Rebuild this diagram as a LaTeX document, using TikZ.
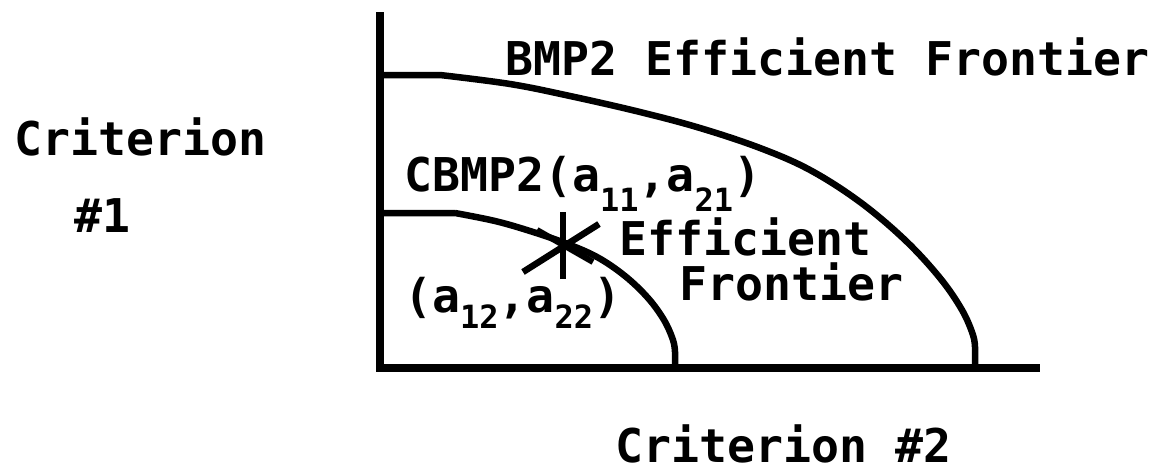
\documentclass[tikz,border=0pt]{standalone}
\usepackage{fontspec}
\newfontfamily\labelfont{DejaVu Sans Mono}
\newcommand{\lowered}[2]{\raisebox{-#1pt}{\fontsize{32}{32}\selectfont #2}}
\begin{document}
\begin{tikzpicture}[x=1pt,y=-1pt,
  axis/.style={line width=7.5pt},
  frontier/.style={line width=6.5pt,line join=round},
  lbl/.style={anchor=base west,inner sep=0pt,font=\labelfont\bfseries\fontsize{46.5}{50}\selectfont}]
\useasboundingbox (0,0) rectangle (1156,472);
\fill[white] (0,0) rectangle (1156,472);

% axes
\coordinate (top) at (380,12);
\coordinate (origin) at (380,368);
\coordinate (right) at (1040,368);
\draw[axis] (top) -- (origin) -- (right);

% outer efficient frontier (BMP2)
\draw[frontier] (380,75) -- (440,75)
  plot[smooth,tension=0.6] coordinates {(440,75) (510,84) (570,96) (640,112) (700,128)
      (760,148) (810,170) (860,202) (905,240) (940,278) (962,310) (973,335) (975,348)}
  -- (975,368);

% inner efficient frontier (CBMP2)
\draw[frontier] (380,213) -- (455,213)
  plot[smooth,tension=0.6] coordinates {(455,213) (495,221) (530,231) (565,243) (597,257)
      (625,276) (648,298) (664,320) (673,340) (675,352)}
  -- (675,368);

% asterisk marking the chosen point
\coordinate (star) at (563,246);
\draw[line width=6.5pt] ([yshift=-33pt]star) -- ([yshift=34pt]star);
\draw[line width=6.5pt] ([shift={(-40,26)}]star) -- ([shift={(36,-22)}]star);
\draw[line width=6pt] ([shift={(-26,-16)}]star) -- ([shift={(30,16)}]star);

% labels
\node[lbl] (bmp) at (505,75) {BMP2 Efficient Frontier};
\node[lbl] (crit1) at (14,155) {Criterion};
\node[lbl] (num1) at (74,232) {\#1};
\node[lbl] (crit2) at (615,462) {Criterion \#2};
\node[lbl] (cbmp) at (404,191) {CBMP2(a\lowered{20}{11},a\lowered{20}{21})};
\node[lbl] (eff) at (619,255) {Efficient};
\node[lbl] (fro) at (679,300) {Frontier};
\node[lbl] (pt) at (404,312) {(a\lowered{16}{12},a\lowered{16}{22})};
\end{tikzpicture}
\end{document}
